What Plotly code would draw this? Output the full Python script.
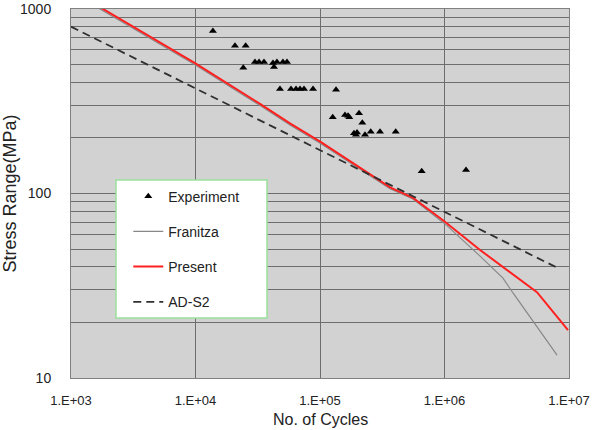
import plotly.graph_objects as go

# Experiment data (N cycles, stress range MPa)
exp_n = [13800, 20750, 25300, 24200, 30050, 32400, 35500, 41900, 45100, 50400, 54300, 42700,
         47700, 58500, 64200, 69100, 74400, 87900, 134500,
         126500, 158800, 167900, 171900, 205800, 218700,
         187500, 194600, 198300, 229800, 255500, 303400, 405600,
         656000, 1489000]
exp_s = [760, 632, 632, 481, 516, 516, 516, 510, 516, 516, 516, 485,
         368, 368, 368, 368, 368, 368, 365,
         259, 266, 264, 259, 272, 242,
         212, 208, 214, 208, 216, 216, 216,
         132, 134]

# Franitza curve
fr_n = [1648, 9910, 33000, 57400, 101800, 365000, 558000, 1010000, 1930000, 2950000, 3550000, 6410000, 8020000]
fr_s = [1015, 499, 300, 235, 186, 106, 93.3, 68.4, 45.8, 34.8, 28.9, 16.5, 13.3]

# Present curve
pr_n = [1648, 9910, 33000, 57400, 101800, 365000, 558000, 990000, 1930000, 3180000, 5530000, 9820000]
pr_s = [1038, 509, 306, 240, 190, 108, 94.6, 71.0, 49.4, 38.5, 29.2, 18.2]

# AD-S2 design curve
ad_n = [1000, 7800000]
ad_s = [802, 40]

x_tickvals = [1e3, 1e4, 1e5, 1e6, 1e7]
x_ticktext = ["1.E+03", "1.E+04", "1.E+05", "1.E+06", "1.E+07"]
y_tickvals = [10, 20, 30, 40, 50, 60, 70, 80, 90, 100, 200, 300, 400, 500, 600, 700, 800, 900, 1000]
y_ticktext = ["10"] + [""] * 8 + ["100"] + [""] * 8 + ["1000"]

fig = go.Figure()
fig.add_trace(go.Scatter(x=exp_n, y=exp_s, mode="markers", name="Experiment",
                         legendgroup="a",
                         marker=dict(symbol="triangle-up", size=7, color="black")))
fig.add_trace(go.Scatter(x=fr_n, y=fr_s, mode="lines", name="Franitza", legendgroup="b",
                         line=dict(color="#888888", width=1.2)))
fig.add_trace(go.Scatter(x=pr_n, y=pr_s, mode="lines", name="Present", legendgroup="c",
                         line=dict(color="#ff2020", width=2)))
fig.add_trace(go.Scatter(x=ad_n, y=ad_s, mode="lines", name="AD-S2", legendgroup="d",
                         line=dict(color="#303030", width=1.8, dash="8px,5px")))

fig.update_layout(
    width=593, height=430,
    margin=dict(l=71, r=24, t=9, b=52),
    paper_bgcolor="white",
    plot_bgcolor="#d2d2d2",
    font=dict(family="Liberation Sans, Arial", color="#222222", size=12),
    showlegend=True,
    legend=dict(x=0.115, y=0.535, xanchor="left", yanchor="top",
                bgcolor="rgba(0,0,0,0)", borderwidth=0,
                traceorder="grouped", tracegroupgap=14,
                font=dict(size=14, family="Liberation Sans, Arial")),
    shapes=[dict(type="rect", xref="paper", yref="paper",
                 x0=(116 - 71) / 498, x1=(267 - 71) / 498,
                 y0=(378 - 318) / 369, y1=(378 - 180) / 369,
                 fillcolor="white", line=dict(color="#9be09b", width=1.5),
                 layer="above")],
    annotations=[dict(text="No. of Cycles", xref="paper", yref="paper",
                      x=0.5, y=(378 - 419) / 369, xanchor="center", yanchor="middle",
                      showarrow=False, font=dict(size=16, color="#222222"))],
)
fig.update_xaxes(type="log", range=[3, 7], tickvals=x_tickvals, ticktext=x_ticktext,
                 showgrid=True, gridcolor="#6e6e6e", gridwidth=1.3,
                 showline=True, linecolor="#808080", linewidth=1, mirror=True,
                 ticks="", tickfont=dict(size=13), ticklabelstandoff=10,
                 automargin=False,
                 zeroline=False)
fig.update_yaxes(type="log", range=[1, 3], tickvals=y_tickvals, ticktext=y_ticktext,
                 showgrid=True, gridcolor="#6e6e6e", gridwidth=1.3,
                 showline=True, linecolor="#808080", linewidth=1, mirror=True,
                 ticks="", tickfont=dict(size=14), ticklabelstandoff=16,
                 automargin=False,
                 title=dict(text="Stress Range(MPa)", font=dict(size=18), standoff=6),
                 zeroline=False)

fig.write_html("out.html")
